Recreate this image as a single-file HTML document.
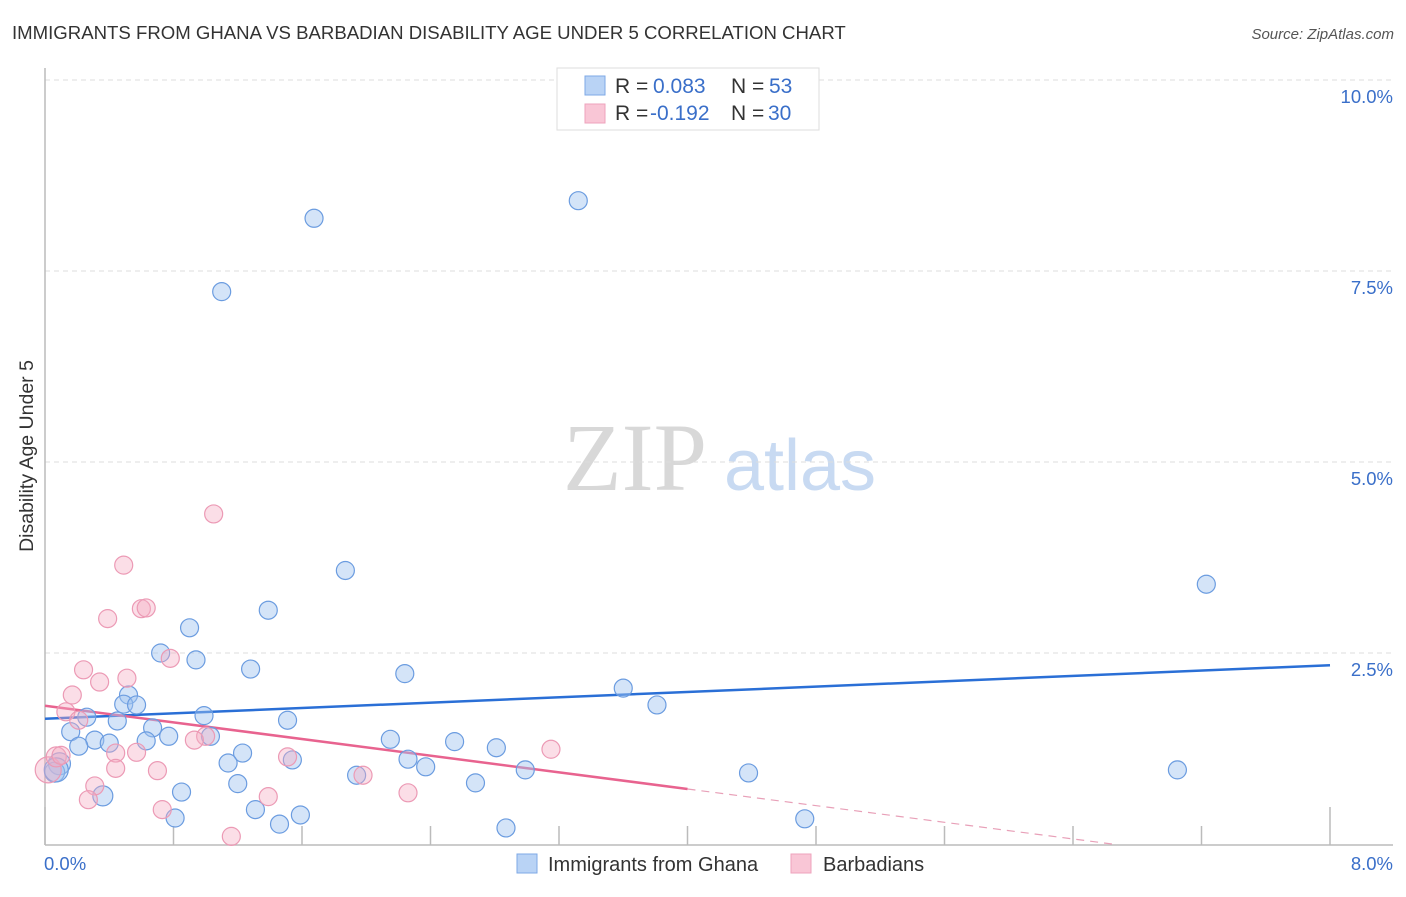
<!DOCTYPE html>
<html><head><meta charset="utf-8"><style>
html,body{margin:0;padding:0;background:#fff;}
body{width:1406px;height:892px;overflow:hidden;font-family:"Liberation Sans",sans-serif;}
</style></head><body>
<svg id="chart" width="1406" height="892" xmlns="http://www.w3.org/2000/svg" font-family="Liberation Sans, sans-serif">
<text x="12" y="39" font-size="18.6" fill="#333">IMMIGRANTS FROM GHANA VS BARBADIAN DISABILITY AGE UNDER 5 CORRELATION CHART</text>
<text x="1394" y="39" font-size="15" fill="#555" text-anchor="end" font-style="italic">Source: ZipAtlas.com</text>
<text transform="translate(33,456) rotate(-90)" font-size="19.5" fill="#333" text-anchor="middle">Disability Age Under 5</text>
<g>
<text x="635" y="490" font-size="96" fill="#d8d8d8" font-family="Liberation Serif, serif" text-anchor="middle">ZIP</text>
<text x="800" y="490" font-size="72" fill="#c8daf2" text-anchor="middle">atlas</text>
</g>
<g id="grid"></g><g id="axes"></g><g id="trend"></g><g id="pts"></g>
<g>
<rect x="557" y="68" width="262" height="62" fill="#fff" stroke="#ddd"/>
<rect x="585" y="76" width="20" height="19" fill="#b9d3f5" stroke="#7ea8e6"/>
<rect x="585" y="104" width="20" height="19" fill="#f9c6d6" stroke="#eea3bc"/>
<text x="615" y="93" font-size="21" fill="#333">R = </text><text x="653" y="93" font-size="21" fill="#3a6fc9">0.083</text>
<text x="731" y="93" font-size="21" fill="#333">N = </text><text x="769" y="93" font-size="21" fill="#3a6fc9">53</text>
<text x="615" y="120" font-size="21" fill="#333">R = </text><text x="650" y="120" font-size="21" fill="#3a6fc9">-0.192</text>
<text x="731" y="120" font-size="21" fill="#333">N = </text><text x="768" y="120" font-size="21" fill="#3a6fc9">30</text>
</g>
<g>
<rect x="517" y="854" width="20" height="19" fill="#b9d3f5" stroke="#7ea8e6"/>
<text x="548" y="871" font-size="20" fill="#333">Immigrants from Ghana</text>
<rect x="791" y="854" width="20" height="19" fill="#f9c6d6" stroke="#eea3bc"/>
<text x="823" y="871" font-size="20" fill="#333">Barbadians</text>
</g>
</svg>
<script>
const yTicks=[2.5,5.0,7.5,10.0];
const xTickVals=[0,0.8,1.6,2.4,3.2,4.0,4.8,5.6,6.4,7.2,8.0];
const xLabels=["0.0%","8.0%"];
const ghanaX=[1.675,3.32,1.10,1.87,7.23,1.39,0.90,0.72,0.94,1.28,2.24,3.60,3.81,0.52,0.49,0.57,0.26,0.99,0.45,1.51,0.16,0.67,0.31,0.40,0.63,0.77,1.03,0.21,2.15,2.55,2.81,1.23,1.14,1.54,2.26,2.37,2.99,1.94,4.38,7.05,0.09,0.06,2.68,1.20,0.85,0.36,1.31,0.81,1.59,1.46,2.87,4.73,0.07];
const ghanaY=[8.19,8.42,7.23,3.58,3.40,3.06,2.83,2.50,2.41,2.29,2.23,2.04,1.82,1.95,1.83,1.82,1.66,1.68,1.61,1.62,1.47,1.52,1.36,1.32,1.35,1.41,1.41,1.28,1.37,1.34,1.26,1.19,1.06,1.10,1.11,1.01,0.97,0.90,0.93,0.97,1.05,0.94,0.80,0.79,0.68,0.63,0.45,0.34,0.38,0.26,0.21,0.33,0.97];
const ghanaR=[9,9,9,9,9,9,9,9,9,9,9,9,9,9,9,9,9,9,9,9,9,9,9,9,9,9,9,9,9,9,9,9,9,9,9,9,9,9,9,9,11,10,9,9,9,10,9,9,9,9,9,9,12];
const barbX=[1.05,0.49,0.60,0.63,0.39,0.78,0.24,0.17,0.34,0.51,0.13,0.21,0.02,0.07,0.10,0.44,0.57,0.31,0.44,0.70,0.27,1.00,0.93,1.51,1.98,3.15,0.73,1.39,2.26,1.16];
const barbY=[4.32,3.65,3.08,3.09,2.95,2.43,2.28,1.95,2.12,2.17,1.73,1.62,0.97,1.14,1.16,1.19,1.20,0.76,0.99,0.96,0.58,1.41,1.36,1.14,0.90,1.24,0.45,0.62,0.67,0.10];
const barbR=[9,9,9,9,9,9,9,9,9,9,9,9,13,10,9,9,9,9,9,9,9,9,9,9,9,9,9,9,9,9];
const ghanaTrend=[1.64,2.34];
const barbTrend=[1.81,0.72];
const barbSolidEnd=4.0;
const NS="http://www.w3.org/2000/svg";
const X=v=>45+v/8*1285, Y=v=>844-v*76.4;
function mk(tag,attrs,parent){const e=document.createElementNS(NS,tag);for(const k in attrs)e.setAttribute(k,attrs[k]);document.getElementById(parent).appendChild(e);return e;}
yTicks.forEach(t=>{
 const l=mk('line',{x1:45,x2:1393,y1:Y(t),y2:Y(t),stroke:'#ddd','stroke-dasharray':'5,4'},'grid');
 
 
 const tx=mk('text',{x:1393,y:Y(t)+23,'font-size':18.5,fill:'#3a6fc9','text-anchor':'end'},'grid');
 tx.textContent=t.toFixed(1)+'%';
 
 
});
const ax=mk('line',{x1:45,x2:1393,y1:845,y2:845,stroke:'#bbb','stroke-width':1.5},'axes');


const ay=mk('line',{x1:45,x2:45,y1:68,y2:845,stroke:'#bbb','stroke-width':1.5},'axes');


xTickVals.forEach((t,i)=>{
 const tk=mk('line',{x1:X(t),x2:X(t),y1:(i==0||i==xTickVals.length-1)?807:826,y2:845,stroke:'#bbb','stroke-width':1.5},'axes');
 
 
});
const xl0=mk('text',{x:44,y:870,'font-size':18.5,fill:'#3a6fc9'},'axes');xl0.textContent=xLabels[0];


const xl1=mk('text',{x:1393,y:870,'font-size':18.5,fill:'#3a6fc9','text-anchor':'end'},'axes');xl1.textContent=xLabels[1];


ghanaX.forEach((x,i)=>{
 const c=mk('circle',{cx:X(x),cy:Y(ghanaY[i]),r:ghanaR[i],fill:'rgba(160,195,240,0.45)',stroke:'#6b9ce0','stroke-width':1.2},'pts');
 
 
});
barbX.forEach((x,i)=>{
 const c=mk('circle',{cx:X(x),cy:Y(barbY[i]),r:barbR[i],fill:'rgba(246,172,196,0.4)',stroke:'#ec9ab5','stroke-width':1.2},'pts');
 
 
});
const gt=mk('line',{x1:X(0),y1:Y(ghanaTrend[0]),x2:X(8),y2:Y(ghanaTrend[1]),stroke:'#2a6fd6','stroke-width':2.5},'trend');


const slope=(barbTrend[1]-barbTrend[0])/barbSolidEnd;
const zeroX=-barbTrend[0]/slope;
const bt=mk('line',{x1:X(0),y1:Y(barbTrend[0]),x2:X(barbSolidEnd),y2:Y(barbTrend[1]),stroke:'#e8638f','stroke-width':2.5},'trend');


const bd=mk('line',{x1:X(barbSolidEnd),y1:Y(barbTrend[1]),x2:X(zeroX),y2:Y(0),stroke:'#e8a0b8','stroke-width':1.2,'stroke-dasharray':'8,6'},'trend');


</script>
</body></html>
